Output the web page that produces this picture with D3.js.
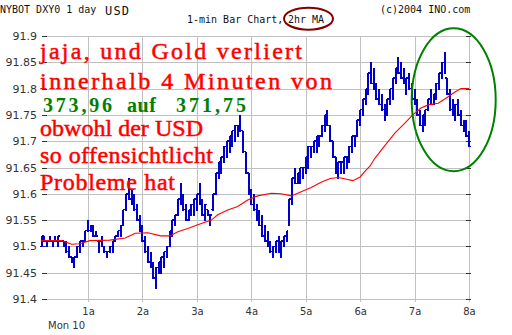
<!DOCTYPE html>
<html>
<head>
<meta charset="UTF-8">
<title>NYBOT DXY0 1 day</title>
<style>
  body { margin: 0; background: #fff; }
  svg { display: block; }
</style>
</head>
<body>
<script src="https://d3js.org/d3.v7.min.js"></script>
<script>
// Zeichenfläche
var width = 512, height = 335;
var svg = d3.select("body").append("svg")
    .attr("width", width)
    .attr("height", height);

// 3-Minuten-Balken ab 00:09 Uhr, Hoch/Tief in Hundertstel über 91.00
var barStart = 9, barStep = 3;
var highs = [52,52,51,52,51,52,52,51,51,51, 50,48,48,50,51,51,53,55,54,54,
             53,51,52,50,49,50,51,52,53,54, 57,60,63,61,60,58,56,54,52,50,
             49,47,46,47,48,49,50,53,55,56, 59,62,60,58,57,58,59,60,62,59,
             58,57,56,60,64,66,67,69,70,71, 72,73,73,75,72,68,64,61,60,58,
             57,56,54,53,51,50,51,52,51,52, 53,59,63,65,64,65,65,67,69,69,
             70,71,71,73,75,76,73,70,67,66, 66,67,67,69,71,71,74,76,78,80,
             83,85,84,81,80,79,77,78,80,82, 84,86,85,84,82,83,81,80,78,76,
             75,76,78,80,79,81,83,85,87,82, 80,78,77,78,76,74,74,72];
var lows  = [50,51,50,51,50,51,50,51,50,49, 48,47,46,48,49,50,51,53,53,52,
             52,49,50,49,48,49,49,51,52,52, 54,57,59,58,57,55,53,51,49,47,
             46,44,42,45,45,46,48,50,52,54, 56,58,57,55,55,56,56,57,58,56,
             55,56,54,57,60,63,64,66,67,68, 69,70,71,72,68,64,60,58,57,55,
             54,52,51,50,49,48,49,49,48,50, 51,54,58,62,62,62,63,64,65,67,
             68,68,69,71,72,73,70,67,64,63, 64,64,65,66,68,69,71,73,75,77,
             79,81,80,78,77,76,74,75,77,78, 81,83,82,81,79,80,78,77,75,73,
             72,73,76,77,77,78,80,82,83,79, 76,75,74,75,73,72,71,69];

// 2-Stunden-Durchschnitt (Minuten seit Mitternacht, Kurs)
var maTimes  = [8, 31, 42, 51, 62, 84, 101, 112, 126, 140, 150, 159, 170, 181, 196,
                203, 214, 225, 236, 247, 262, 273, 284, 295, 306, 317, 327, 336, 344,
                352, 360, 365, 371, 376, 387, 398, 409, 418, 427, 435, 446, 455, 465, 471, 480];
var maValues = [91.511, 91.511, 91.504, 91.505, 91.511, 91.512, 91.516, 91.525, 91.526,
                91.520, 91.520, 91.528, 91.534, 91.541, 91.550, 91.560, 91.569, 91.576,
                91.588, 91.596, 91.601, 91.600, 91.596, 91.604, 91.612, 91.622, 91.629,
                91.631, 91.628, 91.625, 91.632, 91.642, 91.653, 91.667, 91.691, 91.715,
                91.734, 91.750, 91.763, 91.769, 91.772, 91.782, 91.794, 91.800, 91.800];

// Achsen
var yTicks = [91.4, 91.45, 91.5, 91.55, 91.6, 91.65, 91.7, 91.75, 91.8, 91.85, 91.9];
var yTickLabels = ["91.4", "91.45", "91.5", "91.55", "91.6", "91.65", "91.7", "91.75", "91.8", "91.85", "91.9"];
var hourTicks = [60, 120, 180, 240, 300, 360, 420, 480];
var hourLabels = ["1a", "2a", "3a", "4a", "5a", "6a", "7a", "8a"];

var gridColor = "#c0c0c0";
var tickColor = "#333";
var barColor = "#0000c8";
var maColor = "#ff0000";

var x = d3.scaleLinear().domain([0, 480]).range([33.6, 469]);
var y = d3.scaleLinear().domain([91.4, 91.9]).range([299, 36]);

var plotLeft = 47, plotRight = 469;

// Gitter
var grid = svg.append("g").attr("shape-rendering", "crispEdges");
grid.selectAll("line.h").data(yTicks).join("line")
    .attr("class", "h")
    .attr("x1", plotLeft).attr("x2", plotRight)
    .attr("y1", function(d){ return Math.round(y(d)) + 0.5; })
    .attr("y2", function(d){ return Math.round(y(d)) + 0.5; })
    .attr("stroke", gridColor);
grid.selectAll("line.v").data(hourTicks).join("line")
    .attr("class", "v")
    .attr("x1", function(d){ return Math.round(x(d)) + 0.5; })
    .attr("x2", function(d){ return Math.round(x(d)) + 0.5; })
    .attr("y1", y(91.9)).attr("y2", 302)
    .attr("stroke", gridColor);
// kleine Striche rechts
grid.selectAll("line.r").data(yTicks).join("line")
    .attr("class", "r")
    .attr("x1", 466).attr("x2", 471)
    .attr("y1", function(d){ return Math.round(y(d)) + 0.5; })
    .attr("y2", function(d){ return Math.round(y(d)) + 0.5; })
    .attr("stroke", tickColor);

// linke Achse mit d3
var yAxis = d3.axisLeft(y).tickValues(yTicks)
    .tickFormat(function(d, i){ return yTickLabels[i]; })
    .tickSize(5).tickPadding(5);
var gy = svg.append("g").attr("transform", "translate(" + plotLeft + ",0)").call(yAxis);
gy.select(".domain").remove();
gy.selectAll("line").attr("stroke", tickColor).attr("shape-rendering", "crispEdges");
gy.selectAll(".tick").attr("transform", function(d){ return "translate(0," + (Math.round(y(d)) + 0.5) + ")"; });
gy.selectAll("text").attr("fill", tickColor)
    .style("font-family", "'DejaVu Sans', sans-serif").style("font-size", "11px");

// untere Achse
var xAxis = d3.axisBottom(x).tickValues(hourTicks)
    .tickFormat(function(d, i){ return hourLabels[i]; })
    .tickSize(0).tickPadding(9);
var gx = svg.append("g").attr("transform", "translate(0,299)").call(xAxis);
gx.select(".domain").remove();
gx.selectAll("text").attr("fill", tickColor)
    .style("font-family", "'DejaVu Sans', sans-serif").style("font-size", "10px");

svg.append("text").attr("x", 48).attr("y", 329).text("Mon 10")
    .attr("fill", tickColor)
    .style("font-family", "'DejaVu Sans', sans-serif").style("font-size", "10px");

// Balken aufbereiten
var bars = highs.map(function(h, i){
    return { t: barStart + i * barStep, hi: 91 + h / 100, lo: 91 + lows[i] / 100 };
});
bars.forEach(function(b, i){
    var next = bars[i + 1];
    var mid = (b.hi + b.lo) / 2;
    b.close = next ? ((next.hi + next.lo) / 2 >= mid ? b.hi : b.lo) : b.lo;
    var o = i ? bars[i - 1].close : b.lo;
    b.open = Math.max(b.lo, Math.min(b.hi, o));
});

var barG = svg.append("g").attr("stroke", barColor).attr("shape-rendering", "crispEdges");
barG.selectAll("line.hl").data(bars).join("line")
    .attr("class", "hl")
    .attr("stroke-width", 2)
    .attr("x1", function(d){ return x(d.t); })
    .attr("x2", function(d){ return x(d.t); })
    .attr("y1", function(d){ return y(d.hi); })
    .attr("y2", function(d){ return y(d.lo) + 1; });
barG.selectAll("line.op").data(bars).join("line")
    .attr("class", "op")
    .attr("stroke-width", 1.5)
    .attr("x1", function(d){ return x(d.t) - 1.8; })
    .attr("x2", function(d){ return x(d.t); })
    .attr("y1", function(d){ return y(d.open); })
    .attr("y2", function(d){ return y(d.open); });
barG.selectAll("line.cl").data(bars).join("line")
    .attr("class", "cl")
    .attr("stroke-width", 1.5)
    .attr("x1", function(d){ return x(d.t); })
    .attr("x2", function(d){ return x(d.t) + 1.8; })
    .attr("y1", function(d){ return y(d.close); })
    .attr("y2", function(d){ return y(d.close); });

// gleitender Durchschnitt
var maLine = d3.line()
    .x(function(d, i){ return x(maTimes[i]); })
    .y(function(d){ return y(d); });
svg.append("path").datum(maValues)
    .attr("d", maLine)
    .attr("fill", "none")
    .attr("stroke", maColor)
    .attr("stroke-width", 1.1);

// Kopfzeile
var mono = "'DejaVu Sans Mono', monospace";
svg.append("text").attr("x", 0).attr("y", 13).text("NYBOT DXY0 1 day")
    .attr("fill", "#111").style("font-family", mono).style("font-size", "10px");
svg.append("text").attr("x", 105).attr("y", 15).text("USD")
    .attr("fill", "#111").attr("textLength", 24)
    .style("font-family", mono).style("font-size", "12px");
svg.append("text").attr("x", 187).attr("y", 23).text("1-min Bar Chart,")
    .attr("fill", "#111").style("font-family", mono).style("font-size", "10px");
svg.append("text").attr("x", 288).attr("y", 23).text("2hr MA")
    .attr("fill", "#111").style("font-family", mono).style("font-size", "10px");
svg.append("text").attr("x", 380).attr("y", 13).text("(c)2004 INO.com")
    .attr("fill", "#111").style("font-family", mono).style("font-size", "10px");

svg.append("ellipse")
    .attr("cx", 308.5).attr("cy", 18.7).attr("rx", 24.5).attr("ry", 11)
    .attr("fill", "none").attr("stroke", "#800000").attr("stroke-width", 2);

// Kommentar in rot
var serif = "'Liberation Serif', 'Times New Roman', serif";
var redLines = ["jaja, und Gold verliert", "innerhalb 4 Minuten von",
                "obwohl der USD", "so offensichtlicht", "Probleme hat"];
var redBase = [59, 89, 136, 163, 190];
var redLen = [262, 292, 163, 173, 135];
redLines.forEach(function(s, i){
    svg.append("text")
        .attr("x", 40).attr("y", redBase[i])
        .attr("textLength", redLen[i]).attr("lengthAdjust", "spacing")
        .text(s)
        .attr("fill", "#ff0000")
        .attr("stroke", "#ff0000").attr("stroke-width", 0.5)
        .style("font-family", serif).style("font-size", "24px");
});

// grüne Zahlen
var greenParts = ["373,96", "auf", "371,75"];
var greenX = [43, 127, 176];
var greenLen = [69, 29, 70];
greenParts.forEach(function(s, i){
    svg.append("text")
        .attr("x", greenX[i]).attr("y", 112)
        .attr("textLength", greenLen[i]).attr("lengthAdjust", "spacing")
        .text(s)
        .attr("fill", "#008000")
        .style("font-family", serif).style("font-size", "20px").style("font-weight", "bold");
});

// grüne Markierung
svg.append("ellipse")
    .attr("cx", 453.7).attr("cy", 99.7).attr("rx", 42).attr("ry", 71.5)
    .attr("fill", "none").attr("stroke", "#008000").attr("stroke-width", 2);
</script>
</body>
</html>
